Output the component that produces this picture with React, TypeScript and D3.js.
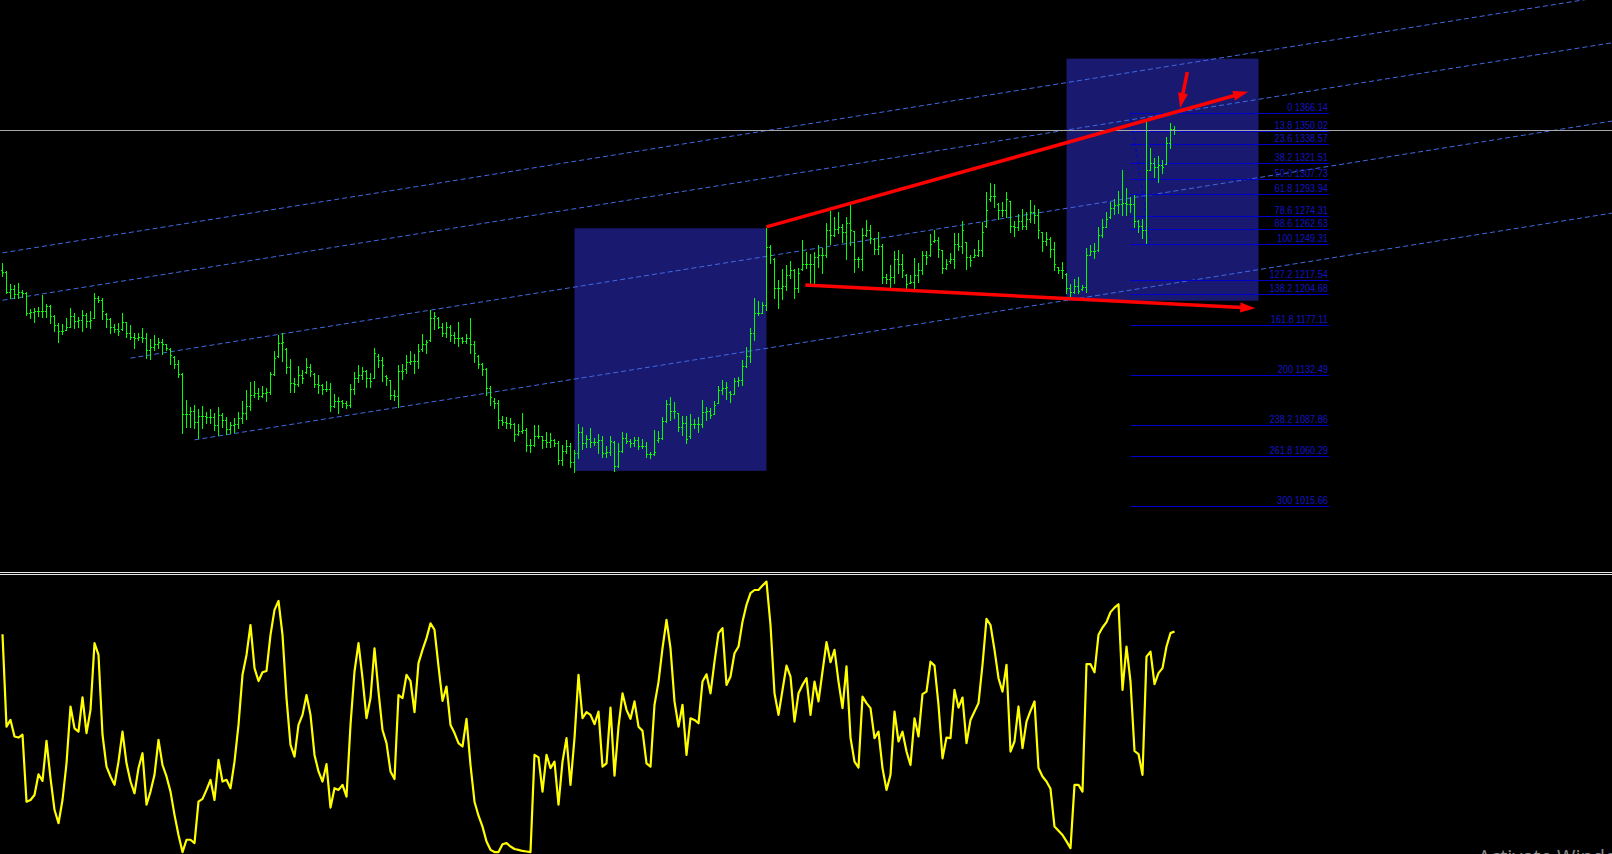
import React from "react";
import * as d3 from "d3";

// OHLC bars: [open, high, low, close]
const bars: number[][] = [
  [1226,1232.4,1221.1,1225],[1225,1225.5,1205.6,1207],[1207,1213.9,1201.2,1209],[1209,1213.1,1201.2,1205],[1205,1214.6,1201.2,1207],
  [1207,1208.6,1202.1,1206],[1206,1207.1,1186.3,1188],[1188,1191.4,1183.3,1189],[1189,1192.3,1180.4,1190],[1190,1193.1,1185.4,1190],
  [1190,1204.1,1184.2,1190],[1190,1196.1,1184.2,1194],[1194,1195.2,1179.5,1185],[1185,1186.3,1172.3,1177],[1177,1178.9,1162.5,1172],
  [1172,1178.3,1169.4,1172],[1173,1183.3,1172.9,1176],[1176,1192.3,1175.3,1185],[1185,1187.8,1174.4,1181],[1181,1184.2,1175.9,1182],
  [1182,1190.8,1172.3,1186],[1186,1187.8,1175.9,1181],[1181,1189.9,1174.4,1182],[1184,1205.6,1183.3,1201],[1201,1203.2,1198.2,1200],
  [1200,1201.2,1182.7,1190],[1187,1187.8,1175.9,1183],[1183,1183.3,1170.5,1176],[1176,1178.3,1171.4,1174],[1174,1178.9,1168.5,1172],
  [1174,1188.4,1172.9,1180],[1180,1180.4,1167.0,1170],[1170,1177.4,1164.6,1167],[1167,1170.0,1157.2,1166],[1166,1170.0,1164.0,1167],
  [1167,1174.4,1162.5,1166],[1166,1170.0,1147.7,1155],[1155,1164.6,1147.1,1158],[1158,1168.5,1155.1,1160],[1160,1165.5,1156.6,1162],
  [1162,1164.6,1151.5,1160],[1160,1160.4,1155.1,1157],[1156,1156.6,1142.6,1151],[1149,1149.7,1138.7,1143],[1143,1146.2,1131.3,1134],
  [1134,1134.9,1081.4,1098],[1098,1110.5,1086.7,1098],[1098,1104.5,1086.7,1101],[1101,1106.0,1085.2,1091],[1091,1102.5,1076.9,1096],
  [1096,1105.1,1085.2,1096],[1096,1099.5,1089.7,1095],[1095,1102.5,1089.7,1095],[1095,1098.6,1083.7,1088],[1088,1103.9,1079.3,1097],
  [1097,1098.6,1086.7,1093],[1093,1095.6,1080.2,1085],[1085,1091.2,1080.8,1088],[1088,1094.7,1082.3,1089],[1089,1099.5,1085.2,1094],
  [1094,1109.6,1089.7,1099],[1099,1119.4,1093.5,1105],[1105,1126.8,1101.6,1115],[1115,1127.7,1113.4,1117],[1117,1120.9,1111.4,1114],
  [1114,1123.0,1113.4,1117],[1117,1120.9,1109.9,1118],[1118,1135.7,1115.8,1134],[1134,1154.5,1132.8,1148],[1150,1168.4,1149.1,1161],
  [1161,1169.9,1145.3,1162],[1156,1156.6,1134.9,1140],[1140,1146.7,1117.9,1126],[1126,1129.8,1117.9,1125],[1125,1140.8,1123.0,1133],
  [1133,1137.2,1125.3,1130],[1135,1147.6,1134.3,1140],[1140,1142.6,1131.9,1136],[1134,1134.3,1121.8,1125],[1125,1132.8,1116.4,1124],
  [1124,1124.7,1115.8,1120],[1120,1127.4,1118.8,1120],[1120,1125.3,1101.0,1105],[1105,1115.8,1103.9,1110],[1110,1113.4,1098.6,1110],
  [1110,1110.5,1103.9,1108],[1108,1109.9,1103.0,1106],[1106,1124.7,1103.9,1120],[1120,1135.7,1115.8,1130],[1130,1141.7,1126.8,1133],
  [1133,1139.6,1129.2,1136],[1136,1137.2,1121.8,1130],[1130,1134.3,1121.8,1127],[1130,1156.6,1129.8,1152],[1150,1151.5,1140.2,1146],
  [1146,1148.5,1127.7,1142],[1132,1132.8,1123.9,1130],[1128,1128.3,1111.4,1115],[1115,1119.4,1110.5,1114],[1114,1141.7,1103.9,1136],
  [1136,1142.6,1129.2,1136],[1138,1150.6,1134.9,1144],[1144,1154.2,1142.6,1145],[1145,1151.5,1134.9,1145],[1145,1160.4,1138.7,1154],
  [1156,1169.3,1154.5,1160],[1160,1164.0,1152.1,1162],[1164,1190.7,1163.4,1184],[1184,1189.3,1173.8,1185],[1184,1184.2,1174.4,1176],
  [1176,1178.9,1167.6,1170],[1170,1180.3,1167.0,1176],[1176,1177.4,1163.4,1168],[1168,1171.4,1161.0,1166],[1166,1179.8,1158.9,1166],
  [1166,1167.0,1161.0,1163],[1163,1169.3,1161.0,1166],[1166,1183.3,1152.1,1160],[1160,1163.1,1144.7,1152],[1150,1150.6,1138.7,1143],
  [1143,1143.2,1132.8,1138],[1138,1138.7,1114.9,1121],[1121,1123.0,1106.0,1113],[1110,1112.0,1103.0,1108],[1108,1110.5,1085.2,1093],
  [1093,1096.2,1088.2,1091],[1091,1095.0,1085.2,1090],[1090,1094.1,1085.2,1089],[1089,1089.7,1074.2,1080],[1080,1089.1,1079.3,1083],
  [1083,1098.6,1081.3,1084],[1084,1085.2,1065.3,1070],[1070,1075.4,1064.4,1070],[1070,1088.2,1069.7,1078],[1078,1088.2,1076.3,1078],
  [1078,1078.4,1067.4,1075],[1075,1081.6,1068.9,1073],[1073,1080.7,1068.3,1075],[1075,1075.4,1069.7,1072],[1072,1074.2,1053.1,1057],
  [1057,1070.3,1052.5,1065],[1065,1074.8,1063.5,1069],[1069,1071.8,1050.4,1055],[1055,1065.9,1046.6,1063],[1063,1089.1,1058.4,1082],
  [1082,1086.7,1066.5,1072],[1072,1079.3,1068.9,1076],[1076,1085.2,1068.9,1073],[1073,1076.3,1070.3,1073],[1073,1080.2,1062.9,1075],
  [1075,1078.4,1059.9,1063],[1063,1069.4,1059.9,1064],[1064,1078.4,1061.4,1074],[1073,1073.9,1047.4,1052],[1052,1071.8,1051.0,1065],
  [1065,1081.6,1063.8,1077],[1077,1080.7,1071.8,1074],[1074,1075.4,1068.3,1072],[1072,1077.2,1069.7,1075],[1075,1077.2,1066.5,1069],
  [1069,1075.4,1067.4,1069],[1069,1072.7,1059.3,1062],[1062,1064.4,1058.4,1062],[1062,1083.7,1061.4,1064],[1075,1082.8,1072.7,1077],
  [1077,1095.6,1075.4,1092],[1092,1110.5,1091.1,1107],[1107,1112.8,1092.6,1101],[1101,1109.0,1094.1,1101],[1099,1099.2,1083.1,1086],
  [1086,1096.2,1079.3,1090],[1090,1096.2,1071.8,1076],[1078,1097.7,1076.3,1089],[1089,1093.2,1085.2,1089],[1089,1095.0,1082.2,1089],
  [1089,1110.5,1086.7,1100],[1100,1104.5,1092.6,1101],[1101,1103.6,1094.1,1097],[1098,1109.9,1097.7,1106],[1108,1123.0,1107.5,1119],
  [1119,1128.3,1115.8,1121],[1121,1126.8,1111.1,1122],[1118,1118.5,1108.4,1116],[1116,1129.8,1115.5,1127],[1127,1131.3,1122.9,1128],
  [1128,1146.1,1123.8,1141],[1141,1158.0,1139.6,1150],[1150,1175.0,1144.7,1170],[1170,1201.1,1164.0,1188],[1188,1198.8,1186.3,1188],
  [1188,1198.2,1187.8,1195],[1195,1263.6,1190.7,1247],[1247,1248.7,1232.4,1240],[1236,1236.8,1201.1,1210],[1210,1217.5,1192.5,1210],
  [1210,1227.0,1200.3,1212],[1212,1230.9,1208.6,1222],[1222,1234.7,1219.0,1226],[1226,1227.0,1201.1,1210],[1210,1227.9,1207.1,1224],
  [1227,1253.2,1226.4,1232],[1232,1242.8,1227.9,1232],[1232,1240.7,1213.0,1232],[1232,1242.8,1214.5,1238],[1238,1248.7,1229.4,1240],
  [1240,1245.7,1224.0,1240],[1240,1268.0,1237.7,1262],[1262,1279.3,1249.6,1258],[1258,1273.4,1256.7,1263],[1263,1277.8,1259.1,1265],
  [1265,1267.4,1251.7,1260],[1260,1273.4,1236.2,1268],[1268,1284.4,1248.7,1262],[1261,1261.2,1224.9,1236],[1236,1238.3,1228.8,1236],
  [1236,1263.6,1226.4,1258],[1258,1271.0,1256.7,1262],[1262,1266.5,1250.8,1255],[1254,1254.7,1240.7,1245],[1245,1260.0,1240.7,1248],
  [1248,1249.6,1215.1,1220],[1220,1222.8,1215.1,1218],[1218,1230.9,1210.1,1220],[1220,1243.4,1215.1,1236],[1236,1244.3,1224.0,1232],
  [1232,1240.7,1219.9,1226],[1222,1222.8,1210.1,1214],[1215,1221.9,1214.5,1216],[1216,1236.8,1208.6,1222],[1222,1232.9,1216.0,1226],
  [1226,1243.4,1222.8,1240],[1240,1243.4,1231.8,1238],[1240,1258.5,1238.9,1250],[1252,1262.1,1251.1,1253],[1253,1256.1,1238.3,1245],
  [1244,1244.3,1223.4,1228],[1228,1235.9,1227.0,1232],[1234,1241.9,1233.0,1236],[1236,1259.1,1227.9,1250],[1250,1259.1,1244.3,1248],
  [1248,1270.4,1241.9,1262],[1251,1251.7,1227.0,1238],[1238,1239.8,1230.0,1235],[1238,1244.9,1237.7,1240],[1240,1253.2,1238.9,1244],
  [1244,1269.5,1238.9,1260],[1266,1296.3,1265.1,1280],[1290,1303.7,1288.2,1292],[1292,1303.1,1282.3,1292],[1285,1285.9,1271.6,1280],
  [1280,1287.4,1274.6,1280],[1280,1295.7,1274.0,1290],[1288,1288.2,1260.6,1266],[1266,1270.1,1256.7,1265],[1265,1276.3,1262.1,1270],
  [1270,1280.5,1262.7,1266],[1266,1278.4,1262.7,1272],[1272,1288.8,1269.5,1278],[1278,1284.4,1268.6,1275],[1275,1280.5,1254.7,1262],
  [1260,1260.6,1243.6,1252],[1252,1260.6,1248.7,1254],[1254,1255.5,1237.7,1245],[1245,1251.7,1226.4,1232],[1229,1229.4,1223.4,1226],
  [1226,1233.8,1219.0,1226],[1223,1223.4,1205.6,1210],[1210,1213.9,1202.0,1207],[1207,1218.1,1205.6,1212],[1212,1219.9,1205.6,1208],
  [1209,1213.0,1208.6,1211],[1211,1245.7,1207.1,1240],[1240,1248.7,1239.8,1243],[1243,1250.2,1236.8,1243],[1244,1264.4,1243.6,1258],
  [1258,1271.6,1256.1,1265],[1265,1278.4,1264.4,1272],[1274,1287.3,1272.5,1282],[1282,1289.4,1276.3,1284],[1284,1297.1,1277.5,1285],
  [1285,1315.6,1275.4,1286],[1286,1299.8,1275.4,1285],[1285,1291.8,1278.4,1285],[1285,1293.3,1265.0,1270],[1270,1271.0,1260.6,1266],
  [1266,1271.6,1254.6,1262],[1262,1358.7,1250.2,1316],[1316,1334.9,1315.6,1322],[1322,1326.6,1309.0,1318],[1318,1328.4,1305.2,1320],
  [1320,1324.5,1312.6,1318],[1321,1345.3,1320.9,1340],[1340,1357.2,1334.9,1352],[1352,1354.8,1347.7,1351],
];

// oscillator value per bar (0..100)
const osc: number[] = [
  79.2,46.2,48.6,42.7,42.3,43.3,19.4,20.0,21.8,29.2,26.8,41.1,27.8,16.5,11.7,20.0,33.1,53.4,45.6,44.4,
  56.7,43.9,52.2,76.0,71.8,43.3,31.9,28.4,25.4,33.7,44.4,33.1,26.6,22.4,31.4,36.7,18.3,23.0,29.0,41.5,
  32.5,28.4,23.0,14.7,7.5,1.4,5.8,5.8,4.6,19.4,20.4,23.6,27.2,20.0,34.3,26.6,27.2,24.2,33.7,46.8,
  64.7,71.8,82.5,67.1,62.5,65.6,66.1,79.0,87.9,91.1,79.0,56.4,39.7,35.5,46.8,50.4,57.5,50.4,36.1,30.2,
  26.6,32.8,17.3,24.2,23.6,25.4,21.2,46.8,65.9,76.0,63.5,49.2,56.4,74.2,58.7,45.0,40.3,30.2,27.5,57.5,
  56.4,64.7,62.5,51.4,68.9,73.6,77.8,83.1,80.8,67.7,55.4,60.5,46.8,43.9,40.3,39.1,49.0,32.5,19.4,14.4,
  10.5,5.2,2.2,1.4,1.4,4.2,4.6,3.4,2.5,2.2,1.8,1.6,1.4,36.1,35.2,23.0,36.1,31.4,33.7,18.3,
  33.7,42.1,25.4,42.1,64.7,49.2,51.4,50.4,47.1,51.6,31.9,33.1,53.0,28.7,46.2,58.1,52.2,49.0,55.2,46.2,
  44.7,33.1,31.9,54.0,62.1,74.2,84.3,74.2,55.2,46.2,54.0,36.1,49.2,48.6,47.4,62.3,64.9,58.1,69.4,79.6,
  81.4,61.1,64.1,72.4,74.8,83.7,89.7,93.9,95.0,95.0,96.6,98.0,82.5,58.1,50.4,59.3,68.0,64.1,48.0,58.1,
  61.1,63.5,50.4,62.3,55.2,65.9,76.4,69.2,73.6,62.3,52.8,67.7,42.3,33.7,31.6,56.9,54.6,52.8,42.1,44.4,
  31.4,23.6,29.0,51.6,40.9,44.4,37.3,32.5,49.2,42.7,57.8,58.7,69.4,68.0,54.0,34.9,42.3,42.1,59.3,53.0,
  56.6,40.3,48.6,51.6,54.6,68.3,84.7,82.5,73.6,63.5,58.7,68.3,37.3,40.9,53.4,38.5,48.0,51.8,55.2,31.4,
  28.4,26.6,24.0,10.5,9.0,7.5,5.2,2.8,25.4,25.4,23.0,68.5,68.5,65.6,79.0,81.6,83.5,87.1,88.7,89.9,
  59.3,74.8,62.3,37.5,36.4,29.0,71.2,73.0,61.4,65.3,67.1,74.8,79.6,80.2,
];

const fibLevels = ["0","13.8","23.6","38.2","50.0","61.8","78.6","88.6","100","127.2","138.2","161.8","200","238.2","261.8","300"];
const fibPrices = [1366.14,1350.02,1338.57,1321.51,1307.73,1293.94,1274.31,1262.63,1249.31,1217.54,1204.68,1177.11,1132.49,1087.86,1060.29,1015.66];
const fibStartBar = 282;
const fibEndBar = 331.7;
const fibAnchorBars = [282, 287];

const bidPrice = 1351.3;

// rectangles: [barFrom, barTo, priceLow, priceHigh]
const boxes: number[][] = [
  [143, 191, 1047.3, 1263.6],
  [266, 314, 1199.0, 1414.9],
];

// channel lines: [bar1, price1, bar2, price2]
const channels: number[][] = [
  [0, 1241.7, 420, 1481.4],
  [0, 1199.4, 420, 1439.1],
  [32, 1147.8, 420, 1369.3],
  [48, 1074.9, 420, 1287.2],
];

// red arrows: [bar1, price1, bar2, price2]
const arrows: number[][] = [
  [191, 1264.8, 311.4, 1385.4],
  [200.7, 1213.0, 313.2, 1192.3],
  [296.2, 1403.0, 294.4, 1370.9],
];

export default function App() {
  const W = 1612;
  const H = 854;
  const x = d3.scaleLinear().domain([0, 293]).range([2.5, 1174.5]);
  const y = d3.scaleLinear().domain([1249.31, 1366.14]).range([244.3, 113.3]);
  const yo = d3.scaleLinear().domain([0, 100]).range([856, 576]);

  const oscLine = d3
    .line<number>()
    .x((_, i) => x(i))
    .y((d) => yo(d))(osc) as string;

  const arrowShape = (a: number[], k: number) => {
    const x1 = x(a[0]), y1 = y(a[1]), x2 = x(a[2]), y2 = y(a[3]);
    const dx = x2 - x1, dy = y2 - y1;
    const len = Math.hypot(dx, dy);
    const ux = dx / len, uy = dy / len;
    const hl = 15, hw = 5;
    const bx = x2 - ux * hl, by = y2 - uy * hl;
    const pts = [
      [x2, y2],
      [bx - uy * hw, by + ux * hw],
      [bx + uy * hw, by - ux * hw],
    ];
    return (
      <g key={k}>
        <line x1={x1} y1={y1} x2={bx + ux * 2} y2={by + uy * 2} stroke="#ff0000" strokeWidth={3.5} />
        <polygon points={pts.map((p) => p.join(",")).join(" ")} fill="#ff0000" />
      </g>
    );
  };

  return (
    <div style={{ position: "absolute", left: 0, top: 0, width: W, height: H, background: "#000" }}>
      <svg width={W} height={H} style={{ display: "block" }}>
        <rect x={0} y={0} width={W} height={H} fill="#000000" />
        <defs>
          <clipPath id="mainClip">
            <rect x={0} y={0} width={W} height={571} />
          </clipPath>
        </defs>

        <g clipPath="url(#mainClip)">
          {boxes.map((b, i) => (
            <rect
              key={i}
              x={x(b[0])}
              y={y(b[3])}
              width={x(b[1]) - x(b[0])}
              height={y(b[2]) - y(b[3])}
              fill="#191970"
            />
          ))}

          {channels.map((c, i) => (
            <line
              key={i}
              x1={x(c[0])}
              y1={y(c[1])}
              x2={x(c[2])}
              y2={y(c[3])}
              stroke="#4169e1"
              strokeWidth={1}
              strokeDasharray="5,3"
            />
          ))}

          {fibPrices.map((p, i) => (
            <line
              key={i}
              x1={x(fibStartBar)}
              x2={x(fibEndBar)}
              y1={Math.round(y(p)) + 0.5}
              y2={Math.round(y(p)) + 0.5}
              stroke="#0000cd"
              strokeWidth={1}
            />
          ))}
          <line
            x1={x(fibAnchorBars[0])}
            y1={y(fibPrices[0])}
            x2={x(fibAnchorBars[1])}
            y2={y(fibPrices[8])}
            stroke="#0000cd"
            strokeWidth={1}
            strokeDasharray="3,3"
          />

          <g shapeRendering="crispEdges" fill="#00ff00">
            {bars.map((b, i) => {
              const col = Math.floor(x(i));
              const yh = Math.round(y(b[1]));
              const yl = Math.round(y(b[2]));
              return (
                <g key={i}>
                  <rect x={col} y={yh} width={1} height={Math.max(1, yl - yh + 1)} />
                  <rect x={col - 1} y={Math.round(y(b[0]))} width={1} height={1} />
                  <rect x={col + 1} y={Math.round(y(b[3]))} width={1} height={1} />
                </g>
              );
            })}
          </g>

          {fibLevels.map((l, i) => (
            <g key={i} transform={`translate(${x(fibEndBar) - 1.5},${y(fibPrices[i]) - 2}) scale(0.83,1)`}>
              <text
                textAnchor="end"
                fontFamily="'Liberation Sans', Arial, sans-serif"
                fontSize={11}
                fill="#1414c0"
              >
                {`${l} ${fibPrices[i].toFixed(2)}`}
              </text>
            </g>
          ))}

          <line
            x1={0}
            x2={W}
            y1={Math.round(y(bidPrice)) + 0.5}
            y2={Math.round(y(bidPrice)) + 0.5}
            stroke="#a8a8a8"
            strokeWidth={1}
          />

          {arrows.map((a, i) => arrowShape(a, i))}
        </g>

        <rect x={0} y={572} width={W} height={1} fill="#e6e6e6" />
        <rect x={0} y={574} width={W} height={1} fill="#e6e6e6" />

        <path d={oscLine} fill="none" stroke="#ffff00" strokeWidth={2.2} strokeLinejoin="round" />

        <text x={1478} y={864} fontFamily="'Open Sans', sans-serif" fontSize={20} fill="#8c8c8c">
          Activate Windows
        </text>
      </svg>
    </div>
  );
}
